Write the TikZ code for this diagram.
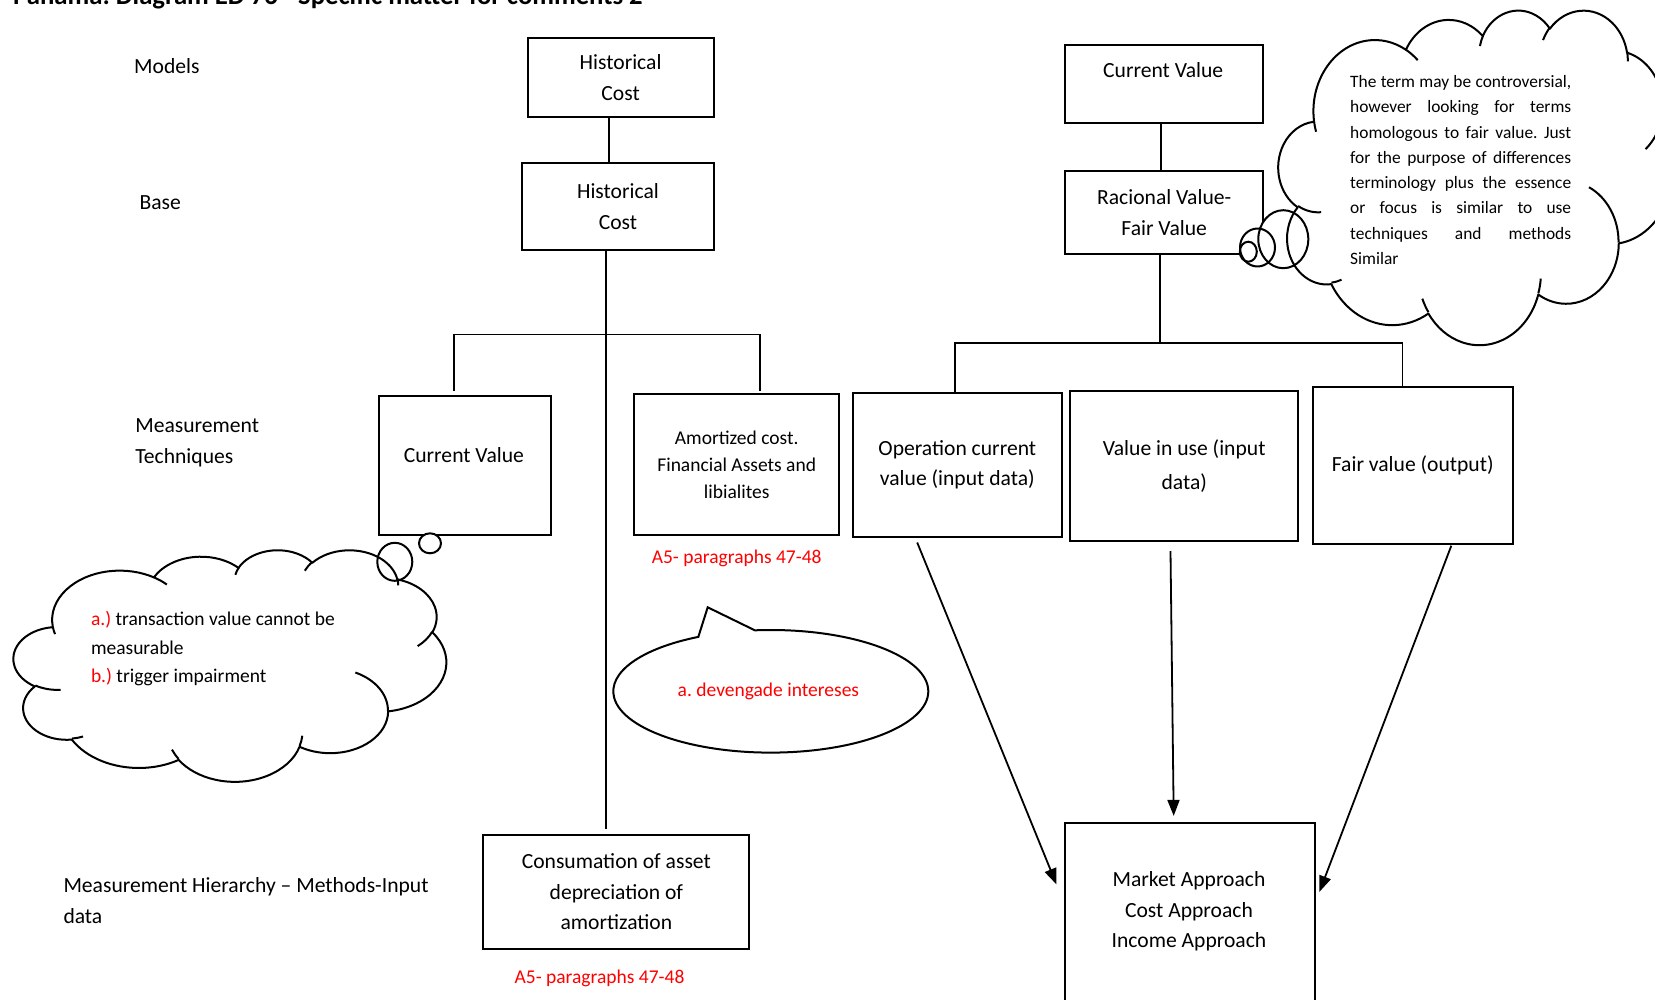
\documentclass[tikz,border=0pt]{standalone}
\usepackage{fontspec}
\setmainfont{Carlito}
\usetikzlibrary{arrows.meta,calc}
\definecolor{redtxt}{RGB}{255,0,0}
\frenchspacing
\newcommand\fmain{\fontsize{21.6}{30.6}\selectfont}
\newcommand\fmainw{\fontsize{21.6}{33.8}\selectfont}
\newcommand\fsmall{\fontsize{19.5}{27}\selectfont}
\newcommand\fcl{\fontsize{19.5}{28.5}\selectfont}
\newcommand\fbig{\fontsize{17.4}{25.3}\selectfont}
\newcommand\ftitle{\fontsize{26.7}{30}\selectfont\bfseries}
\newcommand\clarc[5]{%
  \pgfmathsetmacro\cltmpa{atan2((#2)*sin(#4),(#3)*cos(#4))}%
  \pgfmathsetmacro\cltmpb{atan2((#2)*sin((#4)+(#5)),(#3)*cos((#4)+(#5)))}%
  \pgfmathsetmacro\cltmpd{mod(\cltmpb-(\cltmpa)+720,360)}%
  \expandafter\xdef\csname cls#1\endcsname{\cltmpa}%
  \expandafter\xdef\csname cld#1\endcsname{\cltmpd}%
}
\newcommand\cloudmain{(39.00,143.70)
 arc[start angle=\clsA, delta angle=\cldA, x radius=67.53, y radius=91.90]
 arc[start angle=\clsB, delta angle=\cldB, x radius=53.33, y radius=72.67]
 arc[start angle=\clsC, delta angle=\cldC, x radius=43.65, y radius=59.45]
 arc[start angle=\clsD, delta angle=\cldD, x radius=48.57, y radius=65.95]
 arc[start angle=\clsE, delta angle=\cldE, x radius=53.33, y radius=72.73]
 arc[start angle=\clsF, delta angle=\cldF, x radius=67.75, y radius=92.20]
 arc[start angle=\clsG, delta angle=\cldG, x radius=57.85, y radius=78.67]
 arc[start angle=\clsH, delta angle=\cldH, x radius=67.52, y radius=92.15]
 arc[start angle=\clsI, delta angle=\cldI, x radius=77.20, y radius=105.43]
 arc[start angle=\clsJ, delta angle=\cldJ, x radius=43.60, y radius=59.18]
 arc[start angle=\clsK, delta angle=\cldK, x radius=43.45, y radius=59.45]
 -- cycle}
\newcommand\cloudinner{(46.93,261.77)
 arc[start angle=\clsa, delta angle=\clda, x radius=43.45, y radius=59.45]
 (69.28,348.99) arc[start angle=\clsb, delta angle=\cldb, x radius=43.60, y radius=59.18]
 (164.78,390.90) arc[start angle=\clsc, delta angle=\cldc, x radius=67.52, y radius=92.15]
 (288.27,347.51) arc[start angle=\clsd, delta angle=\cldd, x radius=67.52, y radius=92.15]
 (341.29,229.54) arc[start angle=\clse, delta angle=\clde, x radius=57.85, y radius=78.67]
 (417.98,153.54) arc[start angle=\clsf, delta angle=\cldf, x radius=53.33, y radius=72.73]
 (383.24,54.26) arc[start angle=\clsg, delta angle=\cldg, x radius=48.57, y radius=65.95]
 (290.78,39.52) arc[start angle=\clsh, delta angle=\cldh, x radius=48.57, y radius=65.95]
 (221.41,47.20) arc[start angle=\clsi, delta angle=\cldi, x radius=43.65, y radius=59.45]
 (140.00,51.92) arc[start angle=\clsj, delta angle=\cldj, x radius=67.53, y radius=91.90]
 (41.27,157.89) arc[start angle=\clsk, delta angle=\cldk, x radius=67.53, y radius=91.90]}
\newcommand\wcloudfill[4]{%
  \pgfmathsetmacro\cux{(#3)/432}\pgfmathsetmacro\cuy{(#4)/432}%
  \begin{scope}[shift={(#1,#2)},x=\cux pt,y=-\cuy pt]
    \fill[white] \cloudmain;
  \end{scope}}
\newcommand\wclouddraw[4]{%
  \pgfmathsetmacro\cux{(#3)/432}\pgfmathsetmacro\cuy{(#4)/432}%
  \begin{scope}[shift={(#1,#2)},x=\cux pt,y=-\cuy pt]
    \draw[cloudline] \cloudmain;
    \draw[cloudline] \cloudinner;
  \end{scope}}
\tikzset{
  box/.style={draw, line width=2pt, align=center, inner sep=0pt, font=\fmain, anchor=north west},
  conn/.style={line width=1.5pt},
  arr/.style={line width=1.8pt, -{Triangle[length=16pt,width=12pt]}},
  lbl/.style={inner sep=0pt, font=\fmain, align=left, anchor=west},
  redlbl/.style={inner sep=0pt, font=\fsmall, text=redtxt},
  cloudline/.style={line width=2pt, line join=round},
  bubline/.style={line width=2pt, line join=miter, fill=white},
}
\begin{document}
\begin{tikzpicture}[x=1pt,y=-1pt]
\useasboundingbox (0,0) rectangle (1655,999);
\clip (0,0) rectangle (1655,999);
\fill[white] (0,0) rectangle (1655,999);
\clarc{A}{67.53}{91.90}{-190.4875}{123.7805}
\clarc{B}{53.33}{72.67}{-144.1024}{89.9452}
\clarc{C}{43.65}{59.45}{-145.8079}{99.7230}
\clarc{D}{48.57}{65.95}{-130.9861}{117.2417}
\clarc{E}{53.33}{72.73}{-78.7089}{109.0269}
\clarc{F}{67.75}{92.20}{-46.2673}{130.2690}
\clarc{G}{57.85}{78.67}{0.6250}{114.0333}
\clarc{H}{67.52}{92.15}{22.4516}{115.1726}
\clarc{I}{77.20}{105.43}{66.2426}{75.7110}
\clarc{J}{43.60}{59.18}{-274.9421}{146.7356}
\clarc{K}{43.45}{59.45}{-246.8285}{152.5189}
\clarc{a}{43.45}{59.45}{86.7420}{26.4295}
\clarc{b}{43.60}{59.18}{73.6105}{11.4475}
\clarc{c}{67.52}{92.15}{137.6242}{14.0811}
\clarc{d}{67.52}{92.15}{6.4533}{15.9984}
\clarc{e}{57.85}{78.67}{-70.2924}{70.9174}
\clarc{f}{53.33}{72.73}{30.3180}{27.7515}
\clarc{g}{48.57}{65.95}{-13.7443}{14.8589}
\clarc{h}{48.57}{65.95}{-149.1815}{18.1954}
\clarc{i}{43.65}{59.45}{-163.4943}{17.6864}
\clarc{j}{67.53}{91.90}{-66.7070}{12.3194}
\clarc{k}{67.53}{91.90}{157.6544}{11.8582}

% title (cut by the top edge, as in the reference)
\node[anchor=base west, inner sep=0pt, font=\ftitle] (title) at (13,4) {Panama: Diagram ED 76 - Specific matter for comments 2};

% row labels
\node[lbl] (models) at (134,66.5) {Models};
\node[lbl] (base) at (139.3,202.7) {Base};
\node[lbl] (mtech) at (135.1,442.8) {Measurement\\Techniques};
\node[lbl] (mhier) at (63.3,900.4) {Measurement Hierarchy -- Methods-Input\\data};

% left tree boxes
\node[box, minimum width=185.8, minimum height=79.2] (hc1) at (526.7,36.9) {Historical\\Cost};
\node[box, minimum width=191.1, minimum height=87.6] (hc2) at (521.4,161.5) {Historical\\Cost};
\node[box, minimum width=172, minimum height=139.4] (cvl) at (377.9,394.7) {};
\node[inner sep=0pt, font=\fmain] (cvltext) at (463.9,455) {Current Value};
\node[box, font=\fsmall, minimum width=204.8, minimum height=141.5] (amc) at (633.3,392.6) {Amortized cost.\\Financial Assets and\\libialites};
\node[redlbl] (a5a) at (736.7,558.4) {A5- paragraphs 47-48};
\node[box, minimum width=265.9, minimum height=114] (cons) at (482.4,833.8) {Consumation of asset\\depreciation of\\amortization};
\node[redlbl] (a5b) at (599.5,978.4) {A5- paragraphs 47-48};

% right tree boxes
\node[box, minimum width=198.4, minimum height=78.1] (cvr) at (1064,44.3) {};
\node[inner sep=0pt, font=\fmain] (cvrtext) at (1163.2,69.7) {Current Value};
\node[box, minimum width=198.4, minimum height=83.4] (rfv) at (1064,169.9) {Racional Value-\\Fair Value};
\node[box, minimum width=209, minimum height=144.6] (ocv) at (851.8,391.6) {Operation current\\value (input data)};
\node[box, font=\fmainw, minimum width=228, minimum height=150.9] (viu) at (1069.2,389.5) {Value in use (input\\data)};
\node[box, minimum width=199.5, minimum height=156.2] (fv) at (1312,386.3) {Fair value (output)};
\node[box, minimum width=250, minimum height=200] (ma) at (1064,822.2) {};
\node[inner sep=0pt, font=\fmain, align=center] (matext) at (1189,911.6) {Market Approach\\Cost Approach\\Income Approach};

% left connectors
\draw[conn] ([xshift=-11.6pt]hc1.south) -- ([xshift=-11.6pt]hc1.south |- hc2.north);
\coordinate (tj) at (605.9,334.6);
\draw[conn, shorten >=5pt] (tj |- hc2.south) -- (tj |- cons.north);
\coordinate (lbl) at (454,334.6);
\coordinate (lbr) at (760,334.6);
\draw[conn, shorten <=4pt, shorten >=2pt] (lbl |- cvl.north) -- (lbl) -- (lbr) -- (lbr |- amc.north);

% right connectors
\draw[conn] ([xshift=-3.2pt]cvr.south) -- ([xshift=-3.2pt]cvr.south |- rfv.north);
\coordinate (rj) at (1160,343);
\draw[conn] (rj |- rfv.south) -- (rj);
\coordinate (rbl) at (955.2,343);
\coordinate (rbr) at (1402.7,343);
\draw[conn] (rbl |- ocv.north) -- (rbl) -- (rbr) -- ([yshift=-2pt]rbr |- fv.north);

% arrows into the approaches box
\coordinate (a1s) at (917.2,542.5);
\coordinate (a1e) at (1056.5,884.5);
\coordinate (a2s) at (1170.5,551);
\coordinate (a2e) at (1173.7,815.9);
\coordinate (a3s) at (1451.3,545.7);
\coordinate (a3e) at (1319.4,891.9);
\draw[arr] (a1s) -- (a1e);
\draw[arr] (a2s) -- (a2e);
\draw[arr] (a3s) -- (a3e);

% speech bubble
\coordinate (bc) at (770.8,691.3);
\coordinate (btip) at (707.7,607.3);
\draw[bubline] ($(bc)+(264.2:157.5 and 61.3)$) arc[start angle=264.2, end angle=602.6, x radius=157.5, y radius=61.3] -- (btip) -- cycle;
\node[redlbl] (bub) at (768.4,691.3) {a. devengade intereses};

% left cloud callout
\wcloudfill{13.7}{549.5}{432.5}{231.5}
\fill[white] (394.8,561.8) ellipse[x radius=17.5, y radius=19];
\fill[white] (430,543.3) ellipse[x radius=11, y radius=10];
\wclouddraw{13.7}{549.5}{432.5}{231.5}
\draw[cloudline] (394.8,561.8) ellipse[x radius=17.5, y radius=19];
\draw[cloudline] (430,543.3) ellipse[x radius=11, y radius=10];
\node[inner sep=0pt, font=\fcl, align=left, anchor=west] (lcloud) at (90.8,648.7) {{\color{redtxt}a.)} transaction value cannot be\\measurable\\{\color{redtxt}b.)} trigger impairment};

% right cloud callout
\wcloudfill{1278.5}{9.5}{393}{334.5}
\fill[white] (1283.3,239.2) ellipse[x radius=25, y radius=29];
\fill[white] (1257.5,247.5) ellipse[x radius=17.5, y radius=19];
\fill[white] (1248.3,251.7) ellipse[x radius=8.5, y radius=10];
\wclouddraw{1278.5}{9.5}{393}{334.5}
\draw[cloudline] (1283.3,239.2) ellipse[x radius=25, y radius=29];
\draw[cloudline] (1257.5,247.5) ellipse[x radius=17.5, y radius=19];
\draw[cloudline] (1248.3,251.7) ellipse[x radius=8.5, y radius=10];
\node[inner sep=0pt, font=\fbig, align=left, anchor=west] (rcloud) at (1350,170) {%
\makebox[221pt][s]{The term may be controversial,}\\
\makebox[221pt][s]{however looking for terms}\\
\makebox[221pt][s]{homologous to fair value. Just}\\
\makebox[221pt][s]{for the purpose of differences}\\
\makebox[221pt][s]{terminology plus the essence}\\
\makebox[221pt][s]{or focus is similar to use}\\
\makebox[221pt][s]{techniques and methods}\\
Similar};
\end{tikzpicture}
\end{document}
